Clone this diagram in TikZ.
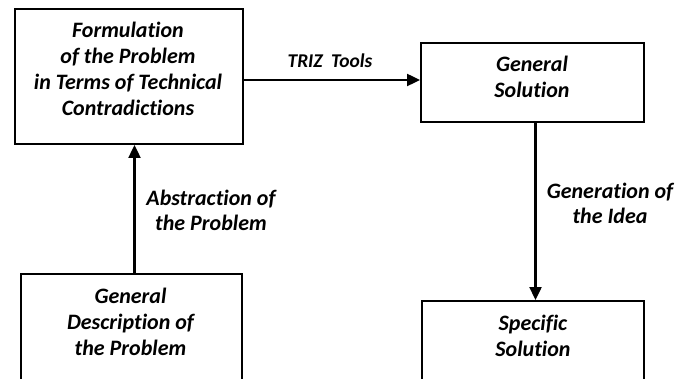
\documentclass[tikz,border=0pt]{standalone}
\usepackage{fontspec}
\setmainfont[Ligatures=NoCommon]{Carlito}
\usetikzlibrary{arrows.meta}
\begin{document}
\begin{tikzpicture}[x=1pt,y=1pt,
  box/.style={draw, line width=2pt, rectangle, inner sep=0pt, anchor=north west},
  txt/.style={font=\fontsize{22}{26}\selectfont\bfseries\itshape, align=center, inner sep=0pt, anchor=base},
  lbl/.style={txt, font=\fontsize{22}{25}\selectfont\bfseries\itshape},
  arr/.style={line width=2.4pt, -{Triangle[length=13pt,width=12pt]}}]
\useasboundingbox (0,0) rectangle (676,-379);
\clip (0,0) rectangle (676,-379);
% boxes
\node[box, minimum width=228pt, minimum height=135pt] (A) at (14,-8) {};
\node[box, minimum width=223pt, minimum height=79pt] (B) at (420,-42) {};
\node[box, minimum width=221pt, minimum height=140pt] (C) at (20,-273) {};
\node[box, minimum width=222pt, minimum height=140pt] (D) at (421,-300) {};
% box texts (placed by the baseline of their last line)
\node[txt] (At) at (128,-116) {Formulation\\of the Problem\\in Terms of Technical\\Contradictions};
\node[txt] (Bt) at (532,-98) {General\\Solution};
\node[txt] (Ct) at (130.5,-355) {General\\Description of\\the Problem};
\node[txt] (Dt) at (533,-356) {Specific\\Solution};
% connectors
\coordinate (t) at ([yshift=-3.5pt]A.east);
\draw[arr] (t) -- (t -| B.west);
\draw[arr] ([xshift=3pt]C.north) -- ([xshift=3pt]C.north |- A.south);
\draw[arr] ([xshift=3pt]B.south) -- ([xshift=3pt]B.south |- D.north);
% connector labels
\node[lbl, font=\fontsize{19.5}{25}\selectfont\bfseries\itshape] (l1) at (330,-68) {TRIZ\hspace{4pt} Tools};
\node[lbl] (l2) at (211,-230) {Abstraction of\\the Problem};
\node[lbl] (l3) at (610,-223) {Generation of\\the Idea};
\end{tikzpicture}
\end{document}
